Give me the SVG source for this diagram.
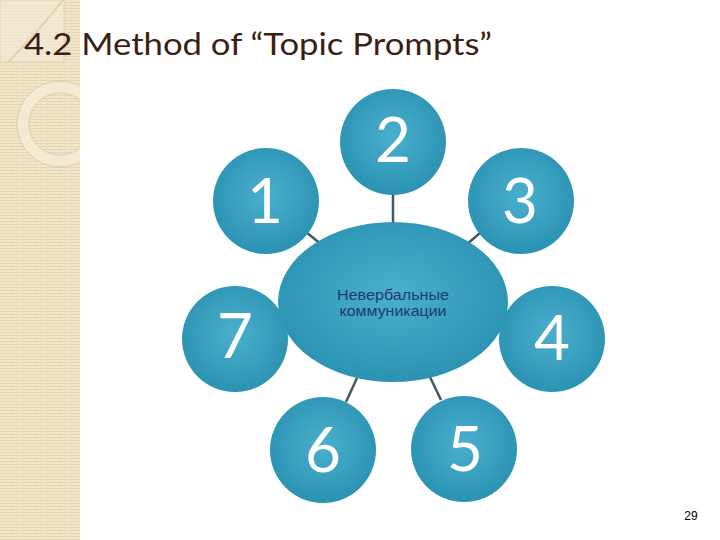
<svg xmlns="http://www.w3.org/2000/svg" width="720" height="540" viewBox="0 0 720 540">
<defs>
<pattern id="stripes" width="6" height="3" patternUnits="userSpaceOnUse">
<rect width="6" height="3" fill="#F1E7CD"/>
<rect y="2" width="6" height="1" fill="#E5D5AE"/>
<rect x="5" width="1" height="3" fill="#EADDBC"/>
</pattern>
<radialGradient id="blue" cx="50%" cy="45%" r="55%">
<stop offset="0" stop-color="#4AAFCD"/>
<stop offset="1" stop-color="#2B93B2"/>
</radialGradient>
<clipPath id="stripClip"><rect x="0" y="0" width="80" height="540"/></clipPath>
</defs>
<style>
.node{fill:url(#blue);}
.num{font-family:Lato,"Open Sans","DejaVu Sans",sans-serif;font-size:62px;fill:#FFFFFF;text-anchor:middle;}
.conn{stroke:#3F5A63;stroke-width:2.5;fill:none;}
.ctext{font-family:"Liberation Sans",Arial,sans-serif;font-size:15px;fill:#1F3A6B;text-anchor:middle;}
</style>
<rect width="720" height="540" fill="#FFFFFF"/>
<g id="decor">
<rect x="0" y="0" width="80" height="540" fill="url(#stripes)"/>
<rect x="0" y="0" width="64" height="62" fill="#F3EBD7" opacity="0.7" stroke="#DCCBA6" stroke-width="1"/>
<path d="M63,0 Q40,30 8,62" fill="none" stroke="#E2D3AF" stroke-width="2"/>
<g clip-path="url(#stripClip)">
<circle cx="60" cy="124" r="37" fill="none" stroke="#F3EAD4" stroke-width="11"/>
<circle cx="60" cy="124" r="43" fill="none" stroke="#E0CFA8" stroke-width="1"/>
<circle cx="60" cy="124" r="31" fill="none" stroke="#E0CFA8" stroke-width="1"/>
</g>
</g>
<text id="title" x="24" y="55" font-family="Lato,'Open Sans',sans-serif" font-size="31" fill="#3B1E14" textLength="468" lengthAdjust="spacingAndGlyphs">4.2 Method of “Topic Prompts”</text>
<g id="connectors">
<line class="conn" x1="393" y1="192" x2="393" y2="224"/>
<line class="conn" x1="306" y1="232" x2="322" y2="245"/>
<line class="conn" x1="480" y1="233" x2="466" y2="245"/>
<line class="conn" x1="357" y1="378" x2="346" y2="402"/>
<line class="conn" x1="430" y1="377" x2="441" y2="400"/>
</g>
<g id="center">
<ellipse class="node" cx="393" cy="302" rx="115" ry="80"/>
<text class="ctext" x="393" y="300" textLength="112" lengthAdjust="spacingAndGlyphs">Невербальные</text>
<text class="ctext" x="393" y="316" textLength="107" lengthAdjust="spacingAndGlyphs">коммуникации</text>
</g>
<g id="n1"><circle class="node" cx="266" cy="201" r="53"/><text class="num" x="265" y="223">1</text></g>
<g id="n2"><circle class="node" cx="393" cy="142" r="53"/><text class="num" x="393" y="162">2</text></g>
<g id="n3"><circle class="node" cx="521" cy="201" r="53"/><text class="num" x="520" y="223">3</text></g>
<g id="n4"><circle class="node" cx="552" cy="339" r="53"/><text class="num" x="552" y="360">4</text></g>
<g id="n5"><circle class="node" cx="464" cy="449" r="53"/><text class="num" x="465" y="471">5</text></g>
<g id="n6"><circle class="node" cx="323" cy="450" r="53"/><text class="num" x="323" y="472">6</text></g>
<g id="n7"><circle class="node" cx="235" cy="339" r="53"/><text class="num" x="235" y="358">7</text></g>
<text id="page" x="691" y="520" font-family="'Liberation Sans',Arial,sans-serif" font-size="12" fill="#000000" text-anchor="middle">29</text>
</svg>
